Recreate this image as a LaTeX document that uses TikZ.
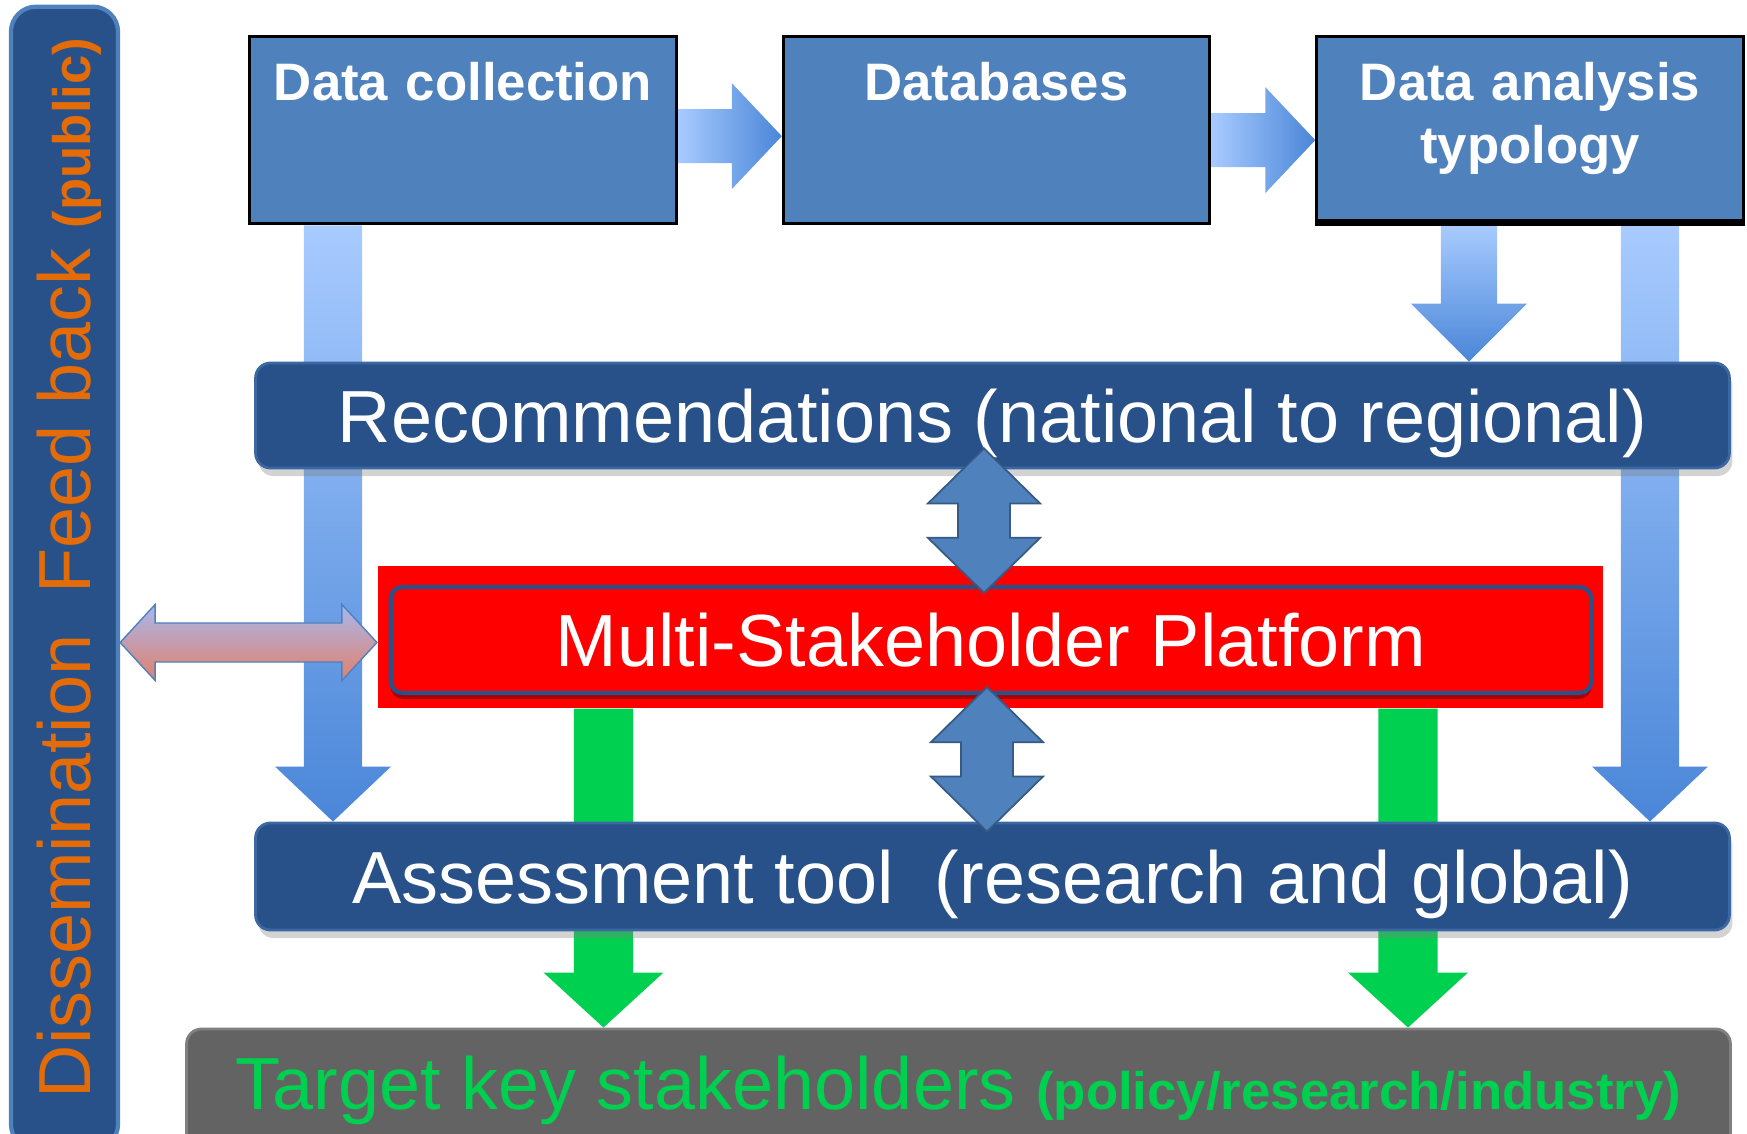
\documentclass[tikz,border=0pt]{standalone}
\usepackage{fontspec}
\setmainfont{Liberation Sans}
\usetikzlibrary{calc,shadows,backgrounds}

\definecolor{boxblue}{HTML}{4F81BD}
\definecolor{deepblue}{HTML}{28518A}
\definecolor{edgeblue}{HTML}{3B68A3}
\definecolor{lightarrow}{HTML}{A8CBFF}
\definecolor{midarrow}{HTML}{4A86D8}
\definecolor{grassgreen}{HTML}{00D050}
\definecolor{feedorange}{HTML}{E36C09}
\definecolor{slategray}{HTML}{636363}
\definecolor{lavender}{HTML}{A8B8EE}
\definecolor{salmon}{HTML}{E2806A}

\tikzset{
	arrshaft/.store in=\arrshaft, arrhead/.store in=\arrhead, arrtip/.store in=\arrtip,
	blockarrow/.style={to path={let \p1=(\tikztostart), \p2=(\tikztotarget), \p3=($(\p2)!\arrtip!(\p1)$) in
		($(\p1)!\arrshaft!90:(\p2)$) -- ($(\p3)!\arrshaft!90:(\p2)$) -- ($(\p3)!\arrhead!90:(\p2)$) -- (\p2)
		-- ($(\p3)!\arrhead!-90:(\p2)$) -- ($(\p3)!\arrshaft!-90:(\p2)$) -- ($(\p1)!\arrshaft!-90:(\p2)$) -- cycle}},
	dblockarrow/.style={to path={let \p1=(\tikztostart), \p2=(\tikztotarget), \p3=($(\p2)!\arrtip!(\p1)$), \p4=($(\p1)!\arrtip!(\p2)$) in
		(\p1) -- ($(\p4)!\arrhead!90:(\p2)$) -- ($(\p4)!\arrshaft!90:(\p2)$) -- ($(\p3)!\arrshaft!90:(\p2)$) -- ($(\p3)!\arrhead!90:(\p2)$) -- (\p2)
		-- ($(\p3)!\arrhead!-90:(\p2)$) -- ($(\p3)!\arrshaft!-90:(\p2)$) -- ($(\p4)!\arrshaft!-90:(\p2)$) -- ($(\p4)!\arrhead!-90:(\p2)$) -- cycle}},
	bluedown/.style={blockarrow,top color=lightarrow,bottom color=midarrow,arrshaft=2.9mm,arrhead=5.8mm,arrtip=5.5mm},
	blueright/.style={blockarrow,left color=lightarrow,right color=midarrow,arrshaft=2.7mm,arrhead=5.3mm,arrtip=5mm},
	greendown/.style={blockarrow,fill=grassgreen,arrshaft=2.95mm,arrhead=6mm,arrtip=5.5mm},
	bothways/.style={dblockarrow,fill=boxblue,draw=boxblue!70!black,line width=0.5pt,arrshaft=2.6mm,arrhead=5.6mm,arrtip=5.5mm},
	topbox/.style={draw=black,line width=0.9pt,fill=boxblue,text=white,font=\fontsize{15}{18}\selectfont\bfseries,
		anchor=north,text width=4.0cm,inner xsep=1.3mm,align=center,text height=4.3mm,text depth=10.2mm,inner ysep=2.1mm},
	bandbox/.style={fill=deepblue,draw=edgeblue,line width=0.8pt,rounded corners=1.5mm,text=white,
		font=\fontsize{21}{25}\selectfont,minimum width=14.73cm,inner ysep=0pt,text height=7mm,text depth=1.6mm,
		drop shadow={shadow xshift=0.3mm,shadow yshift=-0.8mm,opacity=0.35}},
}

\begin{document}
\begin{tikzpicture}[x=0.01cm,y=-0.01cm]
	\useasboundingbox (0,0) rectangle (1747,1134);
	
	\node[fill=deepblue,draw=boxblue,line width=1.2pt,rounded corners=2.5mm,minimum width=1.07cm,minimum height=11.42cm,
		text=feedorange,font=\fontsize{21}{25}\selectfont] (bar) at (64.5,578)
		{\rotatebox{90}{\raisebox{-0.5mm}[\height][\depth]{\hspace*{2mm}Dissemination\ \ Feed back {\fontsize{15}{18}\selectfont\bfseries(public)}}}};
	
	\foreach \n/\x/\txt in {dc/463/Data collection, db/996.5/Databases, da/1530/{Data analysis\\typology}}
	{
		\node[topbox] (\n) at (\x,35) {\txt};
	}
	\draw[line width=2pt] ($(da.south west)+(0,-3)$) -- ($(da.south east)+(0,-3)$);
	
	\node[bandbox,minimum height=10.5mm] (rec) at (992.5,415.5) {Recommendations (national to regional)};
	\node[fill=red,minimum width=12.25cm,minimum height=14.2mm] (platbg) at (990.5,637) {};
	\node[fill=red,draw=deepblue,line width=1.2pt,rounded corners=1.2mm,minimum width=12cm,minimum height=10.6mm,
		text=white,font=\fontsize{21}{25}\selectfont,drop shadow={fill=red!45!black,shadow xshift=0mm,shadow yshift=-0.6mm,opacity=0.6}]
		(plat) at (991,640) {Multi-Stakeholder Platform};
	\node[bandbox,minimum height=10.7mm] (as) at (992.5,876.5) {Assessment tool\ \ (research and global)};
	\node[fill=slategray,draw=gray,line width=0.8pt,rounded corners=1.5mm,minimum width=15.43cm,minimum height=12.2mm,
		text=grassgreen,font=\fontsize{21}{25}\selectfont] (target) at (958.5,1090)
		{Target key stakeholders {\fontsize{15}{18}\selectfont\bfseries(policy/research/industry)}};
	
	\coordinate (colA) at (333,0);
	\coordinate (colB) at (1469,0);
	\coordinate (colC) at (1650,0);
	\coordinate (colG) at (603.5,0);
	\coordinate (colH) at (1408,0);
	\coordinate (colU) at (984,0);
	\coordinate (colV) at (987,0);
	\coordinate (rowF) at (0,642.5);
	
	\begin{scope}[on background layer]
		\path[bluedown] (dc.south -| colA) to (as.north -| colA);
		\path[bluedown] (da.south -| colC) to (as.north -| colC);
		\path[bluedown,arrshaft=2.8mm,arrtip=5.8mm] (da.south -| colB) to (rec.north -| colB);
		\path[blueright] ($(dc.east)+(0,6)$) to ($(db.west)+(0,6)$);
		\path[blueright] ($(db.east)+(0,10)$) to ($(da.west)+(0,10)$);
		\path[greendown] (platbg.south -| colG) to (target.north -| colG);
		\path[greendown] (platbg.south -| colH) to (target.north -| colH);
	\end{scope}
	
	\draw[bothways] ($(rec.south -| colU)+(0,-21)$) to ($(plat.north -| colU)+(0,8)$);
	\draw[bothways] ($(plat.south -| colV)+(0,-8)$) to ($(as.north -| colV)+(0,10)$);
	\draw[dblockarrow,top color=lavender,bottom color=salmon,draw=boxblue,line width=0.4pt,arrshaft=1.95mm,arrhead=3.8mm,arrtip=3.5mm]
		(bar.east |- rowF) to (platbg.west |- rowF);
	
\end{tikzpicture}
\end{document}
